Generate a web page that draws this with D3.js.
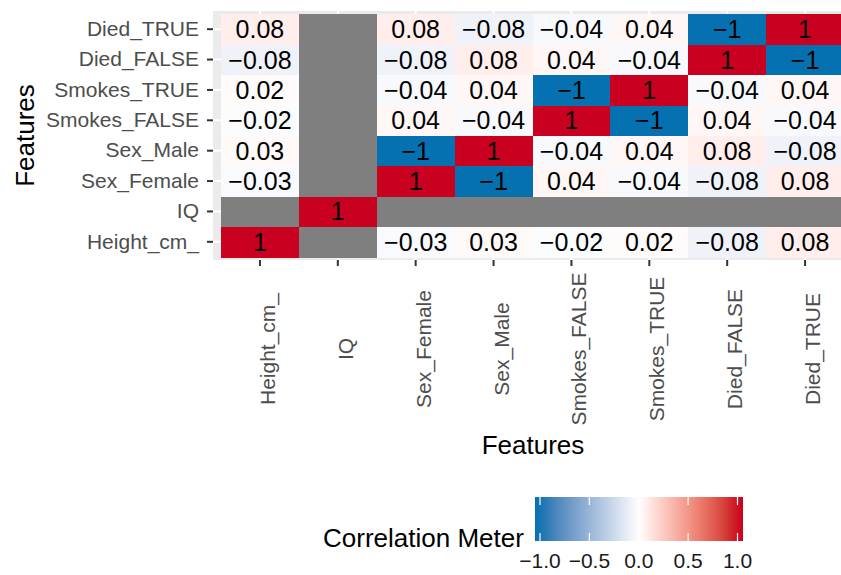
<!DOCTYPE html>
<html>
<head>
<meta charset="utf-8">
<script src="https://cdn.jsdelivr.net/npm/d3@7"></script>
<style>
  body { margin: 0; background: #fff; }
  svg { font-family: "Liberation Sans", Arial, sans-serif; display: block; }
</style>
</head>
<body>
<svg></svg>
<script>
const w = 841;
const h = 575;

// features, in axis order (left to right / bottom to top)
const features = ['Height_cm_', 'IQ', 'Sex_Female', 'Sex_Male', 'Smokes_FALSE', 'Smokes_TRUE', 'Died_FALSE', 'Died_TRUE'];

// correlation rows, same order as features (null = NA)
const corHeight      = [1, null, -0.03, 0.03, -0.02, 0.02, -0.08, 0.08];
const corIQ          = [null, 1, null, null, null, null, null, null];
const corSexFemale   = [-0.03, null, 1, -1, 0.04, -0.04, -0.08, 0.08];
const corSexMale     = [0.03, null, -1, 1, -0.04, 0.04, 0.08, -0.08];
const corSmokesFalse = [-0.02, null, 0.04, -0.04, 1, -1, 0.04, -0.04];
const corSmokesTrue  = [0.02, null, -0.04, 0.04, -1, 1, -0.04, 0.04];
const corDiedFalse   = [-0.08, null, -0.08, 0.08, 0.04, -0.04, 1, -1];
const corDiedTrue    = [0.08, null, 0.08, -0.08, -0.04, 0.04, -1, 1];
const corRows = [corHeight, corIQ, corSexFemale, corSexMale, corSmokesFalse, corSmokesTrue, corDiedFalse, corDiedTrue];

const legendTicks = [-1, -0.5, 0, 0.5, 1];
const legendLabels = ['\u22121.0', '\u22120.5', '0.0', '0.5', '1.0'];

const cells = [];
corRows.forEach((row, i) => {
    row.forEach((v, j) => cells.push({ x: features[j], y: features[i], v: v }));
});

const svg = d3.select('svg')
    .attr('width', w)
    .attr('height', h);

// panel
const panel = { left: 213, right: 852, top: 11, bottom: 260 };

const x = d3.scaleBand()
    .domain(features)
    .range([221, 844]);
const y = d3.scaleBand()
    .domain(features.slice().reverse())
    .range([14, 257]);

const color = d3.scaleLinear()
    .domain([-1, 0, 1])
    .range(['#0571B0', '#FFFFFF', '#CA0020'])
    .interpolate(d3.interpolateLab);

const fmt = v => (v < 0 ? '\u2212' : '') + String(Math.abs(v));

svg.append('rect')
    .attr('x', panel.left)
    .attr('y', panel.top)
    .attr('width', panel.right - panel.left)
    .attr('height', panel.bottom - panel.top)
    .attr('fill', '#EBEBEB');

// grid lines
svg.append('g').selectAll('line')
    .data(features)
    .enter()
    .append('line')
    .attr('x1', d => x(d) + x.bandwidth() / 2)
    .attr('x2', d => x(d) + x.bandwidth() / 2)
    .attr('y1', panel.top)
    .attr('y2', panel.bottom)
    .attr('stroke', '#fff')
    .attr('stroke-width', 2);
svg.append('g').selectAll('line')
    .data(features)
    .enter()
    .append('line')
    .attr('y1', d => y(d) + y.bandwidth() / 2)
    .attr('y2', d => y(d) + y.bandwidth() / 2)
    .attr('x1', panel.left)
    .attr('x2', panel.right)
    .attr('stroke', '#fff')
    .attr('stroke-width', 2);

// tiles
svg.append('g')
    .attr('shape-rendering', 'crispEdges')
    .selectAll('rect')
    .data(cells)
    .enter()
    .append('rect')
    .attr('x', d => x(d.x))
    .attr('y', d => y(d.y))
    .attr('width', x.bandwidth() + 0.5)
    .attr('height', y.bandwidth() + 0.5)
    .attr('fill', d => d.v === null ? '#7F7F7F' : color(d.v));

// tile labels
svg.append('g').selectAll('text')
    .data(cells.filter(d => d.v !== null))
    .enter()
    .append('text')
    .attr('x', d => x(d.x) + x.bandwidth() / 2)
    .attr('y', d => y(d.y) + y.bandwidth() / 2)
    .attr('dy', '0.36em')
    .attr('text-anchor', 'middle')
    .attr('font-size', 25)
    .attr('fill', '#000')
    .text(d => fmt(d.v));

// y axis
const yAxis = svg.append('g')
    .attr('transform', 'translate(' + panel.left + ',0)')
    .call(d3.axisLeft(y).tickSize(6).tickPadding(8));
yAxis.select('.domain').remove();
yAxis.selectAll('line').attr('stroke', '#333').attr('stroke-width', 2);
yAxis.selectAll('text')
    .attr('font-size', 21)
    .attr('font-family', '"Liberation Sans", Arial, sans-serif')
    .attr('fill', '#4D4D4D');

// x axis
const xAxis = svg.append('g')
    .attr('transform', 'translate(0,' + panel.bottom + ')')
    .call(d3.axisBottom(x).tickSize(6));
xAxis.select('.domain').remove();
xAxis.selectAll('line').attr('stroke', '#333').attr('stroke-width', 2);
xAxis.selectAll('text')
    .attr('x', 0)
    .attr('y', 0)
    .attr('dy', null)
    .attr('transform', 'translate(15,89) rotate(-90)')
    .attr('text-anchor', 'middle')
    .attr('font-size', 21)
    .attr('font-family', '"Liberation Sans", Arial, sans-serif')
    .attr('fill', '#4D4D4D');

// axis titles
svg.append('text')
    .attr('x', 533)
    .attr('y', 454)
    .attr('text-anchor', 'middle')
    .attr('font-size', 26)
    .text('Features');
svg.append('text')
    .attr('transform', 'translate(34,135.5) rotate(-90)')
    .attr('text-anchor', 'middle')
    .attr('font-size', 26)
    .text('Features');

// legend
const lg = { left: 535, right: 743, top: 497, bottom: 541 };
const lx = d3.scaleLinear().domain([-1, 1]).range([540, 737.5]);

const grad = svg.append('defs').append('linearGradient')
    .attr('id', 'cbar')
    .attr('x1', '0%').attr('x2', '100%');
d3.range(0, 1.0001, 0.05).forEach(t => {
    const v = lx.invert(lg.left + t * (lg.right - lg.left));
    grad.append('stop')
        .attr('offset', (t * 100) + '%')
        .attr('stop-color', color(Math.max(-1, Math.min(1, v))));
});
svg.append('rect')
    .attr('x', lg.left)
    .attr('y', lg.top)
    .attr('width', lg.right - lg.left)
    .attr('height', lg.bottom - lg.top)
    .attr('fill', 'url(#cbar)');

const lt = svg.append('g');
legendTicks.forEach((v, i) => {
    lt.append('line')
        .attr('x1', lx(v)).attr('x2', lx(v))
        .attr('y1', lg.top).attr('y2', lg.top + 8)
        .attr('stroke', '#fff').attr('stroke-width', 1.2);
    lt.append('line')
        .attr('x1', lx(v)).attr('x2', lx(v))
        .attr('y1', lg.bottom - 8).attr('y2', lg.bottom)
        .attr('stroke', '#fff').attr('stroke-width', 1.2);
    lt.append('text')
        .attr('x', lx(v))
        .attr('y', 568)
        .attr('text-anchor', 'middle')
        .attr('font-size', 21)
        .attr('fill', '#1A1A1A')
        .text(legendLabels[i]);
});

svg.append('text')
    .attr('x', 323)
    .attr('y', 547)
    .attr('font-size', 26)
    .text('Correlation Meter');
</script>
</body>
</html>
